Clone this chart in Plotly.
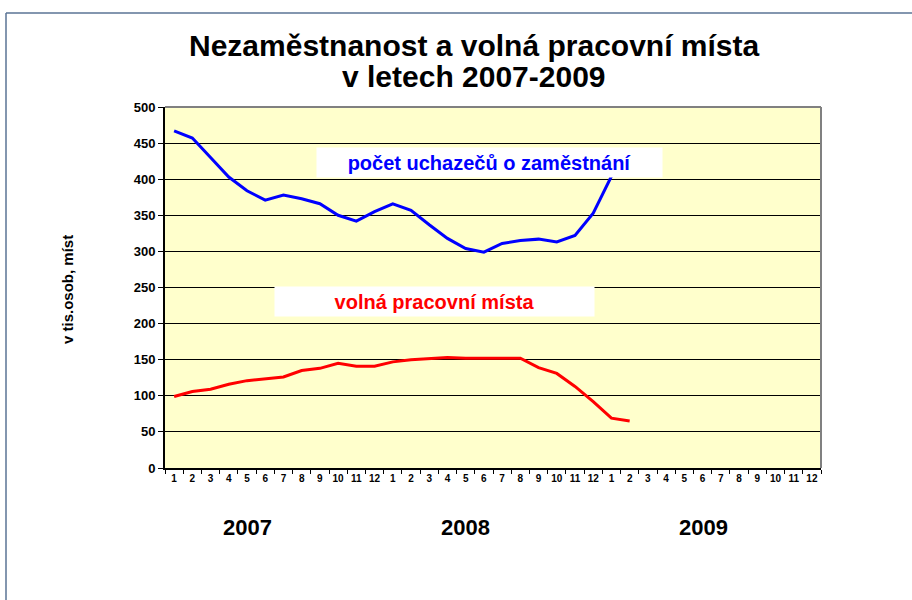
import plotly.graph_objects as go

# ---- data ----
months = [str(m) for m in range(1, 13)] * 3          # 2007, 2008, 2009
years = ["2007", "2008", "2009"]
uchazeci = [467, 457, 430, 403, 384, 371, 378, 373, 366, 350, 342, 355,
            366, 357, 337, 318, 304, 299, 311, 315, 317, 313, 322, 353,
            404, 441]
volna_mista = [99, 106, 109, 116, 121, 124, 126, 135, 138, 145, 141, 141,
               147, 150, 151, 153, 152, 152, 151, 152, 139, 131, 113, 92,
               69, 65]
y_ticks = list(range(0, 501, 50))

# ---- geometry helpers (pixel -> paper) ----
W, H = 912, 600
L, R, T, B = 165, 821, 107, 468
def px(x):
    return (x - L) / (R - L)
def py(y):
    return (B - y) / (B - T)

FONT = "Liberation Sans, Arial, sans-serif"
x_idx = list(range(len(months)))

fig = go.Figure()
fig.add_trace(go.Scatter(x=x_idx[:len(uchazeci)], y=uchazeci, mode="lines",
                         line=dict(color="#0000FF", width=3), hoverinfo="y",
                         name="počet uchazečů o zaměstnání"))
fig.add_trace(go.Scatter(x=x_idx[:len(volna_mista)], y=volna_mista, mode="lines",
                         line=dict(color="#FF0000", width=3), hoverinfo="y",
                         name="volná pracovní místa"))

fig.update_layout(
    width=W, height=H,
    margin=dict(l=L, r=W - R, t=T, b=H - B, autoexpand=False),
    paper_bgcolor="white",
    plot_bgcolor="#FFFFCC",
    showlegend=False,
    font=dict(family=FONT, color="black"),
)
fig.update_xaxes(
    range=[-0.5, len(months) - 0.5], tickmode="array",
    tickvals=x_idx, ticktext=months, ticks="", showgrid=False,
    tickfont=dict(size=10, family=FONT, weight="bold"),
    showline=True, linecolor="black", linewidth=2, zeroline=False,
    minor=dict(tickvals=[i - 0.5 for i in range(len(months) + 1)],
               ticks="outside", ticklen=4, tickcolor="black", tickwidth=1,
               showgrid=False),
    automargin=False, fixedrange=True,
)
fig.update_yaxes(
    range=[0, 500], tickmode="array", tickvals=y_ticks,
    ticks="outside", ticklen=5, tickcolor="black",
    showgrid=True, gridcolor="black", gridwidth=1,
    showline=True, linecolor="black", linewidth=2, zeroline=False,
    tickfont=dict(size=13, family=FONT, weight="bold"),
    automargin=False, fixedrange=True,
)

# gray top/right plot border, outer frame
fig.add_shape(type="line", xref="paper", yref="paper", x0=0, x1=1, y0=1, y1=1,
              line=dict(color="#808080", width=2))
fig.add_shape(type="line", xref="paper", yref="paper", x0=1, x1=1, y0=0, y1=1,
              line=dict(color="#808080", width=2))
fig.add_shape(type="line", xref="paper", yref="paper", x0=px(6), x1=px(912), y0=py(13), y1=py(13),
              line=dict(color="#5A7394", width=1.5))
fig.add_shape(type="line", xref="paper", yref="paper", x0=px(6), x1=px(6), y0=py(13), y1=py(600),
              line=dict(color="#5A7394", width=1.5))

annos = []
# title
annos.append(dict(text="Nezaměstnanost a volná pracovní místa", x=px(474), y=py(45),
                  font=dict(size=30, weight="bold")))
annos.append(dict(text="v letech 2007-2009", x=px(474), y=py(77),
                  font=dict(size=30, weight="bold")))
# y axis title
annos.append(dict(text="v tis.osob, míst", x=px(67), y=py(290), textangle=-90,
                  font=dict(size=15, weight="bold")))
# years
for yr, xc in zip(years, [247, 465, 703]):
    annos.append(dict(text=yr, x=px(xc), y=py(527), font=dict(size=22, weight="bold")))
# series labels with white boxes
annos.append(dict(text="počet uchazečů o zaměstnání", x=px(489.5), y=py(162.5),
                  font=dict(size=20, color="#0000FF", weight="bold"),
                  bgcolor="white", width=343, height=27))
annos.append(dict(text="volná pracovní místa", x=px(434.5), y=py(301.5),
                  font=dict(size=20, color="#FF0000", weight="bold"),
                  bgcolor="white", width=317, height=27))
for a in annos:
    a.update(xref="paper", yref="paper", showarrow=False, xanchor="center", yanchor="middle")
    a["font"].setdefault("family", FONT)
    a["font"].setdefault("color", "black")
fig.update_layout(annotations=annos)

fig.write_html("out.html", config={"displayModeBar": False},
               post_script="document.body.style.margin='0';document.body.style.overflow='hidden';")
